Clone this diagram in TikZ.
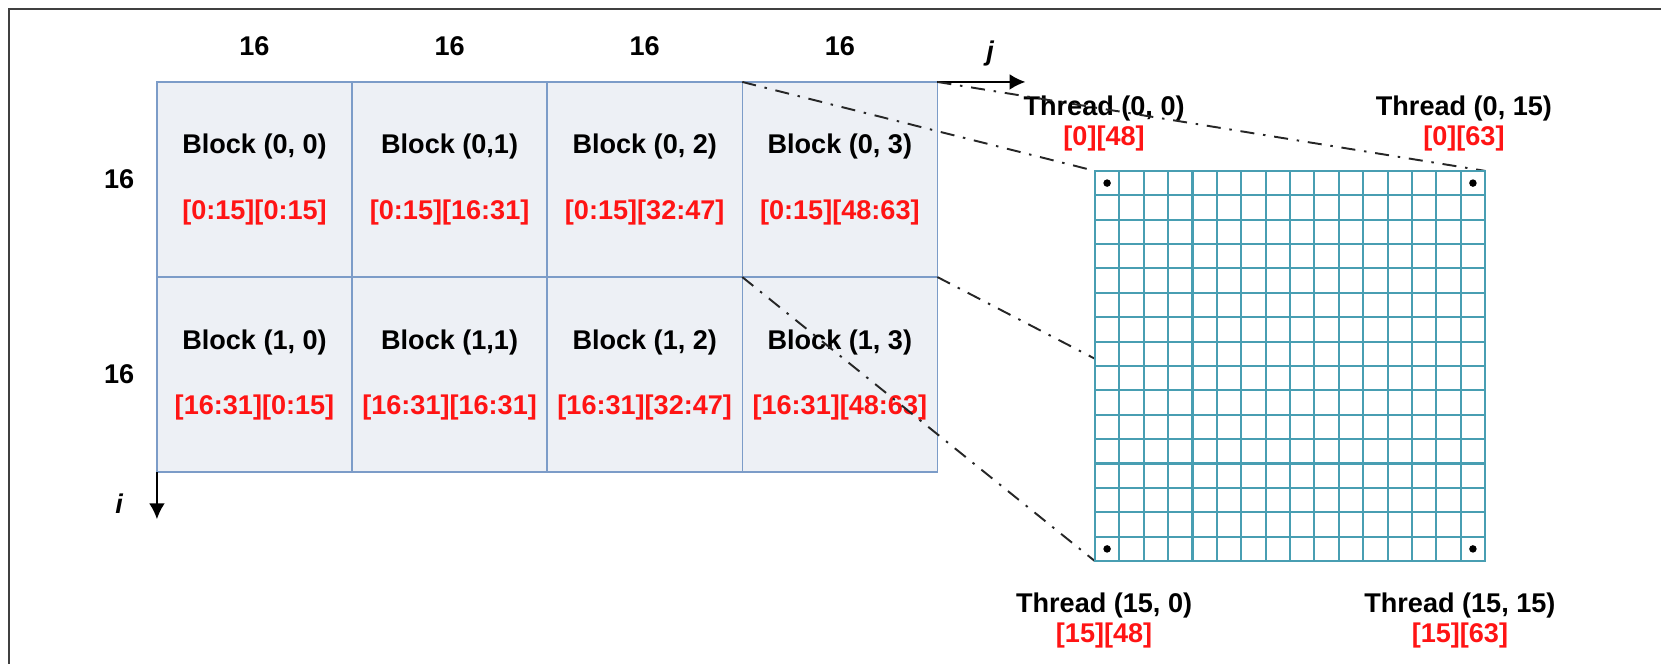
\documentclass[tikz,border=0pt]{standalone}
\usepackage{fontspec}
\setmainfont{Liberation Sans}
\usepackage{tikz}
\usetikzlibrary{arrows.meta}
\usetikzlibrary{positioning,calc}
\definecolor{blkfill}{RGB}{237,240,245}
\definecolor{blkedge}{RGB}{124,156,200}
\definecolor{gridteal}{RGB}{72,158,178}
\definecolor{idxred}{RGB}{255,20,20}
\newcommand{\lblfont}{\fontsize{7.7}{9}\selectfont\bfseries}
\newcommand{\thrfont}{\fontsize{7.7}{8.5}\selectfont\bfseries}
\pgfdeclarelayer{front}
\pgfsetlayers{main,front}
\tikzset{
    blk/.style={
           rectangle,
           draw=blkedge, line width=0.45pt,
           fill=blkfill,
           minimum width=1.95cm, minimum height=1.95cm,
           outer sep=0pt, inner sep=0pt,
           align=center, font=\lblfont,
           },
}
\tikzset{
    tgrid/.style={
           rectangle,
           draw=gridteal, line width=0.6pt,
           fill=white,
           minimum width=3.9cm, minimum height=3.9cm,
           outer sep=0pt, inner sep=0pt,
           },
}
\tikzset{
    tdot/.style={circle, fill=black, inner sep=0pt, minimum size=0.075cm},
    thrlbl/.style={align=center, font=\thrfont, inner sep=0pt},
    sizelbl/.style={font=\lblfont, inner sep=0pt},
    axis/.style={line width=0.6pt, -{Latex[length=4.5pt,width=4.5pt]}},
    zoomline/.style={line width=0.55pt, black!85, dash pattern=on 4pt off 2.5pt on 0.7pt off 2.5pt},
    frame/.style={line width=0.6pt, black!75},
}

\begin{document}
\begin{tikzpicture}[x=0.01cm,y=-0.01cm]
\useasboundingbox (0,0) rectangle (1661,664);
\draw[frame] (9,664) -- (9,9) -- (1661,9);
% blocks of the matrix
\node[blk] (b00) at (254.5,179.5) {Block (0, 0)\\[9.5pt]\textcolor{idxred}{[0:15][0:15]}};
\node[blk,right = 0cm of b00] (b01) {Block (0,1)\\[9.5pt]\textcolor{idxred}{[0:15][16:31]}};
\node[blk,right = 0cm of b01] (b02) {Block (0, 2)\\[9.5pt]\textcolor{idxred}{[0:15][32:47]}};
\node[blk,right = 0cm of b02] (b03) {Block (0, 3)\\[9.5pt]\textcolor{idxred}{[0:15][48:63]}};
\node[blk,below = 0cm of b00] (b10) {Block (1, 0)\\[9.5pt]\textcolor{idxred}{[16:31][0:15]}};
\node[blk,right = 0cm of b10] (b11) {Block (1,1)\\[9.5pt]\textcolor{idxred}{[16:31][16:31]}};
\node[blk,right = 0cm of b11] (b12) {Block (1, 2)\\[9.5pt]\textcolor{idxred}{[16:31][32:47]}};
\node[blk,right = 0cm of b12] (b13) {Block (1, 3)\\[9.5pt]\textcolor{idxred}{[16:31][48:63]}};
\node[sizelbl,above = 0.25cm of b00] (w0) {16};
\node[sizelbl,above = 0.25cm of b01] (w1) {16};
\node[sizelbl,above = 0.25cm of b02] (w2) {16};
\node[sizelbl,above = 0.25cm of b03] (w3) {16};
\node[sizelbl,left = 0.22cm of b00] (h0) {16};
\node[sizelbl,left = 0.22cm of b10] (h1) {16};
% axes
\coordinate[right = 0.88cm of b03.north east] (jend);
\coordinate[below = 0.47cm of b10.south west] (iend);
\draw[axis] (b03.north east) -- (jend) node[sizelbl,pos=0.6,above=0.15cm,font=\lblfont\itshape] (jlbl) {j};
\draw[axis] (b10.south west) -- (iend) node[sizelbl,pos=0.66,left=0.33cm,font=\lblfont\itshape] (ilbl) {i};
% threads of one block
\begin{pgfonlayer}{front}
\node[tgrid] (tg) at (1290,366) {};
\draw[gridteal, line width=0.6pt, xstep=0.24375cm, ystep=0.24375cm, shift={(tg.north west)}] (0,0) grid (390,390);
\node[tdot] (t00) at ($(tg.north west)+(12.2,12.2)$) {};
\node[tdot] (t0f) at ($(tg.north east)+(-12.2,12.2)$) {};
\node[tdot] (tf0) at ($(tg.south west)+(12.2,-12.2)$) {};
\node[tdot] (tff) at ($(tg.south east)+(-12.2,-12.2)$) {};
\end{pgfonlayer}
\node[thrlbl,above = 0.27cm of t00,xshift=-0.03cm] (l00) {Thread (0, 0)\\\textcolor{idxred}{[0][48]}};
\node[thrlbl,above = 0.27cm of t0f,xshift=-0.09cm] (l0f) {Thread (0, 15)\\\textcolor{idxred}{[0][63]}};
\node[thrlbl,below = 0.39cm of tf0,xshift=-0.03cm] (lf0) {Thread (15, 0)\\\textcolor{idxred}{[15][48]}};
\node[thrlbl,below = 0.39cm of tff,xshift=-0.13cm] (lff) {Thread (15, 15)\\\textcolor{idxred}{[15][63]}};
% zoom lines
\draw[zoomline] (b03.north west) -- (tg.north west);
\draw[zoomline] (b03.north east) -- (tg.north east);
\draw[zoomline] (b03.south west) -- (tg.south west);
\draw[zoomline] (b03.south east) -- (tg.south east);
\end{tikzpicture}
\end{document}
